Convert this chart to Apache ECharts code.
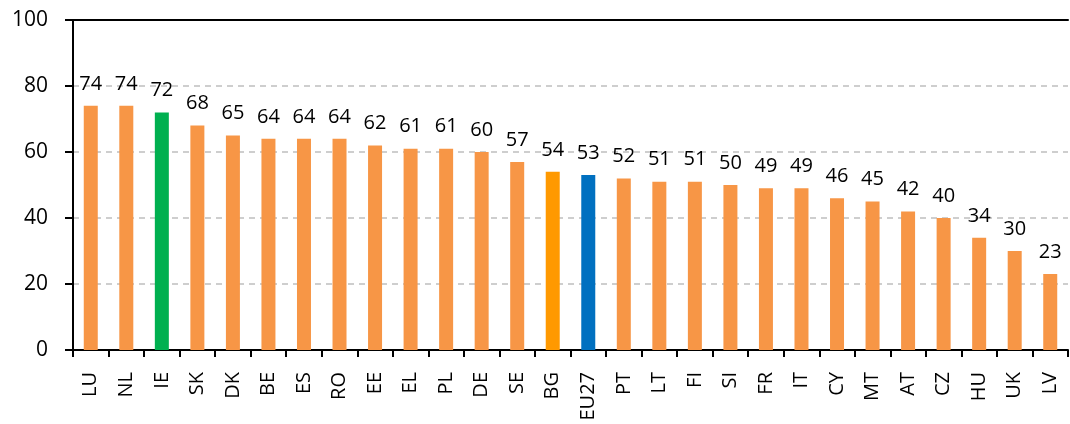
<!DOCTYPE html>
<html>
<head>
<meta charset="utf-8">
<script src="https://cdn.jsdelivr.net/npm/echarts@6/dist/echarts.min.js"></script>
<style>
    body { margin: 0; background: #fff; }
    #main { width: 1070px; height: 424px; }
</style>
</head>
<body>
<div id="main"></div>
<script>
// 国家代码
var countries = ['LU', 'NL', 'IE', 'SK', 'DK', 'BE', 'ES', 'RO', 'EE', 'EL', 'PL', 'DE', 'SE',
    'BG', 'EU27', 'PT', 'LT', 'FI', 'SI', 'FR', 'IT', 'CY', 'MT', 'AT', 'CZ', 'HU', 'UK', 'LV'];
// 数值
var values = [74, 74, 72, 68, 65, 64, 64, 64, 62, 61, 61, 60, 57,
    54, 53, 52, 51, 51, 50, 49, 49, 46, 45, 42, 40, 34, 30, 23];
// 特殊颜色
var highlight = { 'IE': '#00B050', 'BG': '#FF9900', 'EU27': '#0070C0' };
var yTicks = [0, 20, 40, 60, 80, 100];

var font = '"Open Sans", "Liberation Sans", sans-serif';

var barData = [];
for (var i = 0; i < countries.length; i++) {
    barData.push({
        value: values[i],
        itemStyle: { color: highlight[countries[i]] || '#F79646' }
    });
}

var chart = echarts.init(document.getElementById('main'));
var option = {
    animation: false,
    grid: { left: 73, right: 2, top: 20, bottom: 74 },
    xAxis: [
        {
            type: 'category',
            data: countries,
            axisLine: { lineStyle: { color: '#000', width: 2 } },
            axisTick: { show: true, length: 7, lineStyle: { color: '#000', width: 2 } },
            axisLabel: {
                rotate: 90,
                interval: 0,
                color: '#000',
                fontSize: 20,
                fontFamily: font,
                margin: 22
            }
        },
        {
            // 顶部黑线
            type: 'category',
            position: 'top',
            data: countries,
            axisLine: { show: true, lineStyle: { color: '#000', width: 2 } },
            axisTick: { show: false },
            axisLabel: { show: false }
        }
    ],
    yAxis: {
        type: 'value',
        min: yTicks[0],
        max: yTicks[yTicks.length - 1],
        interval: 20,
        axisLine: { show: true, lineStyle: { color: '#000', width: 2 } },
        axisTick: { show: true, length: 8, lineStyle: { color: '#000', width: 2 } },
        axisLabel: { color: '#000', fontSize: 21, fontFamily: font, margin: 25 },
        splitLine: { lineStyle: { color: '#BFBFBF', type: [6, 5], width: 1.5 } }
    },
    series: [
        {
            type: 'bar',
            data: barData,
            barWidth: 14,
            label: {
                show: true,
                position: 'top',
                distance: 12,
                color: '#000',
                fontSize: 20,
                fontFamily: font
            }
        }
    ]
};
chart.setOption(option);
</script>
</body>
</html>
